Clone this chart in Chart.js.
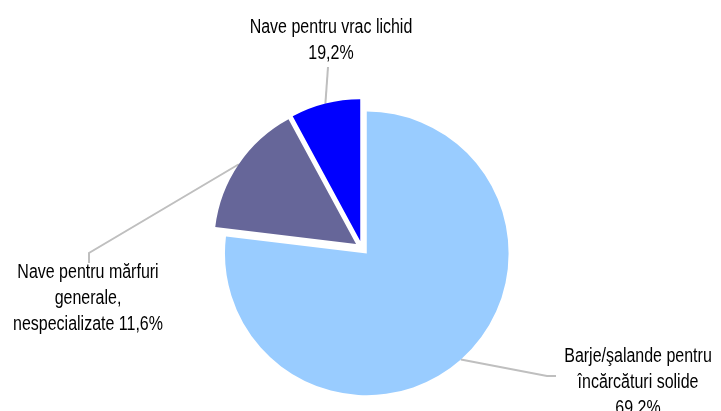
<!DOCTYPE html>
<html>
<head>
<meta charset="utf-8">
<script src="https://cdn.jsdelivr.net/npm/chart.js@4.4.1/dist/chart.umd.min.js"></script>
<style>
  html, body { margin: 0; padding: 0; background: #fff; }
  #wrap { width: 721px; height: 411px; position: relative; }
</style>
</head>
<body>
<div id="wrap"><canvas id="pie"></canvas></div>
<script>
// slice sizes as drawn (share of the circle)
const categories = [
    ['Barje/şalande pentru', 'încărcături solide'],
    ['Nave pentru mărfuri', 'generale,', 'nespecializate'],
    ['Nave pentru vrac lichid']
];
const shares = [76.9, 15.2, 7.9];
const shareLabels = ['69,2%', '11,6%', '19,2%'];
const colors = ['#99ccff', '#666699', '#0000ff'];

// label layout: text centre x, first baseline, leader elbow points
const labelLayout = [
    { x: 638, y: 362, lines: [[547, 376], [556, 376]], inline: false },
    { x: 88, y: 278, lines: [[89, 253], [89, 263]], inline: true },
    { x: 331, y: 33, lines: [[328, 67]], inline: false }
];
// Arial Narrow look: regular sans squeezed horizontally
const FONT = '19.5px "Liberation Sans", Arial, sans-serif';
const SQUEEZE = 0.82;
const LINE_H = 26;
const RADIUS = 141.8;
const EXPLODE = 7.2; // px each slice is pulled out along its middle angle

function midAngle(arc) {
    return (arc.startAngle + arc.endAngle) / 2;
}

const explodePlugin = {
    id: 'explode',
    // leader lines first so the slices cover their inner ends
    beforeDatasetDraw(chart, args) {
        const ctx = chart.ctx;
        const arcs = args.meta.data;
        ctx.save();
        ctx.strokeStyle = '#bfbfbf';
        ctx.lineWidth = 2;
        arcs.forEach((arc, i) => {
            const a = midAngle(arc);
            const r = arc.outerRadius + EXPLODE;
            ctx.beginPath();
            ctx.moveTo(arc.x + Math.cos(a) * r, arc.y + Math.sin(a) * r);
            labelLayout[i].lines.forEach(pt => ctx.lineTo(pt[0], pt[1]));
            ctx.stroke();
        });
        ctx.restore();

        // pulled-out slices, each drawn by the library's own arc element
        arcs.forEach(arc => {
            const a = midAngle(arc);
            ctx.save();
            ctx.translate(Math.cos(a) * EXPLODE, Math.sin(a) * EXPLODE);
            arc.draw(ctx);
            ctx.restore();
        });
        return false;
    },
    afterDraw(chart) {
        const ctx = chart.ctx;
        ctx.save();
        ctx.font = FONT;
        ctx.fillStyle = '#000';
        ctx.textAlign = 'center';
        ctx.textBaseline = 'alphabetic';
        categories.forEach((cat, i) => {
            const L = labelLayout[i];
            let rows = cat.slice();
            if (L.inline) rows[rows.length - 1] += ' ' + shareLabels[i];
            else rows.push(shareLabels[i]);
            rows.forEach((t, k) => {
                ctx.save();
                ctx.translate(L.x, L.y + k * LINE_H);
                ctx.scale(SQUEEZE, 1);
                ctx.fillText(t, 0, 0);
                ctx.restore();
            });
        });
        ctx.restore();
    }
};

new Chart(document.getElementById('pie'), {
    type: 'pie',
    data: {
        labels: categories.map(c => c.join(' ')),
        datasets: [{
            data: shares,
            backgroundColor: colors,
            borderWidth: 0,
            borderColor: 'rgba(0,0,0,0)',
            radius: RADIUS
        }]
    },
    options: {
        responsive: true,
        maintainAspectRatio: false,
        animation: false,
        events: [],
        layout: { padding: { left: 3, right: 0, top: 102, bottom: 17 } },
        plugins: {
            legend: { display: false },
            tooltip: { enabled: false }
        }
    },
    plugins: [explodePlugin]
});
</script>
</body>
</html>
